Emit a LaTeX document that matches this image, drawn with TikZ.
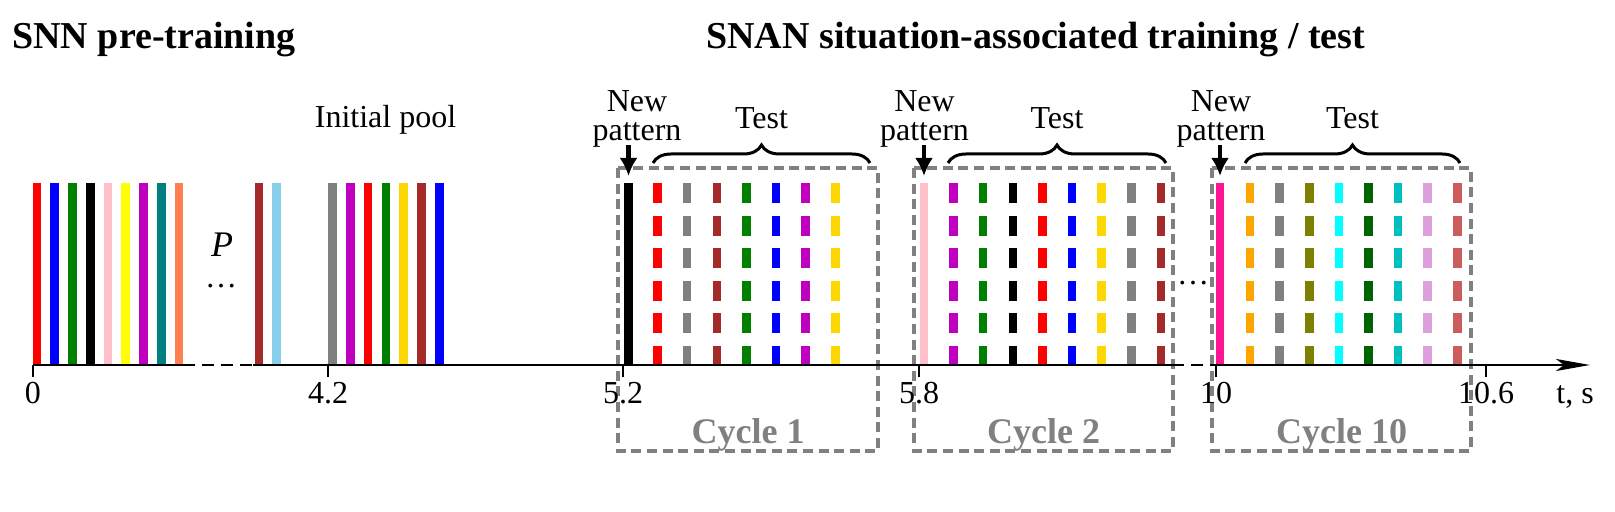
\documentclass[tikz,border=0pt]{standalone}
\usepackage{fontspec}
\setmainfont{Liberation Serif}
\usepackage{tikz}
\tikzset{>=latex}
\usetikzlibrary{arrows.meta}
\usetikzlibrary{decorations.pathreplacing}
\usetikzlibrary{calc}
\definecolor{mplgreen}{HTML}{008000}
\definecolor{mplpink}{HTML}{FFC0CB}
\definecolor{mplyellow}{HTML}{FFFF00}
\definecolor{mplmagenta}{HTML}{BF00BF}
\definecolor{mplteal}{HTML}{008080}
\definecolor{mplcoral}{HTML}{FF7F50}
\definecolor{mplbrown}{HTML}{A52A2A}
\definecolor{mplskyblue}{HTML}{87CEEB}
\definecolor{mplgray}{HTML}{808080}
\definecolor{mplgold}{HTML}{FFD700}
\definecolor{mpldeeppink}{HTML}{FF1493}
\definecolor{mplorange}{HTML}{FFA500}
\definecolor{mplolive}{HTML}{808000}
\definecolor{mplcyan}{HTML}{00FFFF}
\definecolor{mpldarkgreen}{HTML}{006400}
\definecolor{mplc}{HTML}{00BFBF}
\definecolor{mplplum}{HTML}{DDA0DD}
\definecolor{mplindianred}{HTML}{CD5C5C}
\tikzset{
  bar/.style={line width=4.3pt},
  probe/.style={line width=4.3pt, dash pattern=on 10pt off 6.3pt},
  axisline/.style={line width=1.4pt},
  axisgap/.style={line width=1.4pt, dash pattern=on 6pt off 3.5pt},
  tickmark/.style={line width=1.4pt},
  cyclebox/.style={draw=mplgray, line width=1.6pt, dash pattern=on 5pt off 2.8pt},
  cyclelabel/.style={text=mplgray, font=\fontsize{18}{18}\selectfont\bfseries, anchor=base, inner sep=0pt},
  plainlabel/.style={font=\fontsize{16}{16}\selectfont, anchor=base, inner sep=0pt},
  titlelabel/.style={font=\fontsize{19}{19}\selectfont\bfseries, anchor=base west, inner sep=0pt},
  brace/.style={decorate, decoration={brace, amplitude=9pt}, line width=1.5pt},
  newarrow/.style={-{Latex[length=9pt,width=9pt]}, line width=2.2pt},
  newlabel/.style={font=\fontsize{16}{14.5}\selectfont, align=center, anchor=south, inner sep=0pt},
}

\begin{document}
\begin{tikzpicture}[x=0.5pt, y=-0.5pt]
  \useasboundingbox (0,0) rectangle (1615,512);

  % titles
  \node[titlelabel] (pretitle) at (12,49) {SNN pre-training};
  \node[titlelabel] (snantitle) at (706,49) {SNAN situation-associated training / test};

  % pre-training pool
  \foreach \c [count=\i from 0] in {red, blue, mplgreen, black, mplpink, mplyellow, mplmagenta, mplteal, mplcoral}
    \draw[bar, \c] (37+17.75*\i, 183) -- ++(0, 183);
  \draw[bar, mplbrown] (259,183) -- ++(0,183);
  \draw[bar, mplskyblue] (276.5,183) -- ++(0,183);
  \foreach \c [count=\i from 0] in {mplgray, mplmagenta, red, mplgreen, mplgold, mplbrown, blue}
    \draw[bar, \c] (332.5+17.8*\i, 183) -- ++(0, 183);
  \node[font=\fontsize{18}{18}\selectfont\itshape, inner sep=0pt] (poolsize) at (222,245) {P};
  \node[font=\fontsize{16}{16}\selectfont, inner sep=0pt] (pooldots) at (221,286) {\ldots};
  \node[plainlabel] (initpool) at (385.5,128) {Initial pool};

  % cycle 1
  \draw[cyclebox] (618,168) rectangle (878,451);
  \draw[bar, black] (628.5,183) -- ++(0,183);
  \foreach \c [count=\i from 0] in {red, mplgray, mplbrown, mplgreen, blue, mplmagenta, mplgold}
    \draw[probe, \c] (657.5+29.65*\i, 183) -- ++(0, 183);
  \node[cyclelabel] (cyc1) at (748,444) {Cycle 1};

  % cycle 2
  \draw[cyclebox] (914,168) rectangle (1173,451);
  \draw[bar, mplpink] (924,183) -- ++(0,183);
  \foreach \c [count=\i from 0] in {mplmagenta, mplgreen, black, red, blue, mplgold, mplgray, mplbrown}
    \draw[probe, \c] (953.5+29.65*\i, 183) -- ++(0, 183);
  \node[cyclelabel] (cyc2) at (1043.5,444) {Cycle 2};
  \node[font=\fontsize{16}{16}\selectfont, inner sep=0pt] (cycdots) at (1193,283) {\ldots};

  % cycle 10
  \draw[cyclebox] (1212,168) rectangle (1471,451);
  \draw[bar, mpldeeppink] (1220,183) -- ++(0,183);
  \foreach \c [count=\i from 0] in {mplorange, mplgray, mplolive, mplcyan, mpldarkgreen, mplc, mplplum, mplindianred}
    \draw[probe, \c] (1250+29.6*\i, 183) -- ++(0, 183);
  \node[cyclelabel] (cyc10) at (1341.5,444) {Cycle 10};

  % time axis
  \coordinate (t0) at (33,365);
  \coordinate (t42) at (328,365);
  \coordinate (t52) at (623,365);
  \coordinate (t58) at (919,365);
  \coordinate (t10) at (1216,365);
  \coordinate (t106) at (1486,365);
  \coordinate (gapa) at (183,365);
  \coordinate (gapb) at (253,365);
  \coordinate (gapc) at (1172,365);
  \coordinate (tend) at (1590,365);
  \draw[axisline] (t0) -- (gapa);
  \draw[axisgap] (gapa) -- (gapb);
  \draw[axisline] (gapb) -- (gapc);
  \draw[axisgap] (gapc) -- (t10);
  \draw[axisline, -{Stealth[length=17pt, width=6pt, inset=4pt]}] (t10) -- (tend);
  \foreach \t in {t0, t42, t52, t58, t10, t106}
    \draw[tickmark] (\t) -- ++(0,12);

  \node[plainlabel] (l0) at ($(t0)+(0,39)$) {0};
  \node[plainlabel] (l42) at ($(t42)+(0,39)$) {4.2};
  \node[plainlabel] (l52) at ($(t52)+(0,39)$) {5.2};
  \node[plainlabel] (l58) at ($(t58)+(0,39)$) {5.8};
  \node[plainlabel] (l10) at ($(t10)+(0,39)$) {10};
  \node[plainlabel] (l106) at ($(t106)+(0,39)$) {10.6};
  \node[plainlabel] (tunit) at (1575,404) {t, s};

  % test braces
  \draw[brace] (653,163) -- (870,163);
  \node[plainlabel] (test1) at (761.5,129) {Test};
  \draw[brace] (948,163) -- (1166,163);
  \node[plainlabel] (test2) at (1057,129) {Test};
  \draw[brace] (1245,163) -- (1460,163);
  \node[plainlabel] (test10) at (1352.5,129) {Test};

  % new patterns
  \coordinate (top1) at (628.5,176);
  \coordinate (top2) at (924,176);
  \coordinate (top10) at (1220,176);
  \node[newlabel] (np1) at (637,148) {New\\pattern};
  \node[newlabel] (np2) at (924.5,148) {New\\pattern};
  \node[newlabel] (np10) at (1221,148) {New\\pattern};
  \draw[newarrow] ($(np1.south -| top1)+(0,-3)$) -- (top1);
  \draw[newarrow] ($(np2.south -| top2)+(0,-3)$) -- (top2);
  \draw[newarrow] ($(np10.south -| top10)+(0,-3)$) -- (top10);
\end{tikzpicture}
\end{document}
